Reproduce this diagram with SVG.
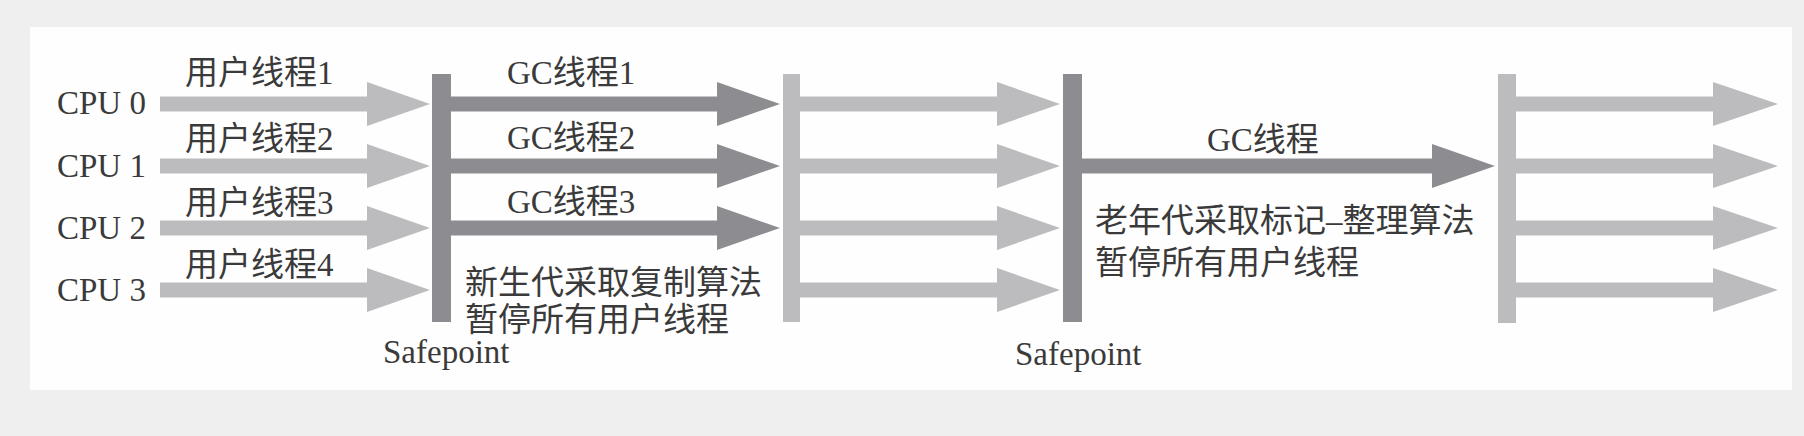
<svg xmlns="http://www.w3.org/2000/svg" width="1804" height="436" viewBox="0 0 1804 436">
<style>
text{font-family:"Liberation Serif","Noto Sans CJK SC",serif;font-size:33px;fill:#3a3a3a}
.lt{fill:#bcbcbe}
.dk{fill:#8d8d91}
</style>
<rect x="0" y="0" width="1804" height="436" fill="#efefef"/>
<rect x="30" y="27" width="1762" height="363" fill="#fefefe"/>
<g id="cpu-labels">
<text x="57" y="114">CPU 0</text>
<text x="57" y="177">CPU 1</text>
<text x="57" y="239">CPU 2</text>
<text x="57" y="301">CPU 3</text>
</g>
<g id="user-thread-labels">
<text x="185" y="84">用户线程1</text>
<text x="185" y="150">用户线程2</text>
<text x="185" y="214">用户线程3</text>
<text x="185" y="276">用户线程4</text>
</g>
<g id="safepoint-1">
<rect class="dk" x="432" y="74" width="19" height="248"/>
<text x="383" y="363">Safepoint</text>
</g>
<g id="gc-labels-young">
<text x="507" y="84">GC线程1</text>
<text x="507" y="149">GC线程2</text>
<text x="507" y="213">GC线程3</text>
<text x="465" y="294">新生代采取复制算法</text>
<text x="465" y="331">暂停所有用户线程</text>
</g>
<g id="resume-1">
<rect class="lt" x="783" y="74" width="17" height="248"/>
</g>
<g id="safepoint-2">
<rect class="dk" x="1063" y="74" width="19" height="248"/>
<text x="1015" y="365">Safepoint</text>
</g>
<g id="gc-labels-old">
<text x="1207" y="151">GC线程</text>
<text x="1095" y="232">老年代采取标记–整理算法</text>
<text x="1095" y="274">暂停所有用户线程</text>
</g>
<g id="resume-2">
<rect class="lt" x="1498" y="74" width="18" height="249"/>
</g>
<g id="connectors">
<polygon class="lt" points="160,96.5 367,96.5 367,82 430,104 367,126 367,111.5 160,111.5"/>
<polygon class="lt" points="160,158.5 367,158.5 367,144 430,166 367,188 367,173.5 160,173.5"/>
<polygon class="lt" points="160,220.5 367,220.5 367,206 430,228 367,250 367,235.5 160,235.5"/>
<polygon class="lt" points="160,282.5 367,282.5 367,268 430,290 367,312 367,297.5 160,297.5"/>
<polygon class="dk" points="451,96.5 717,96.5 717,82 780,104 717,126 717,111.5 451,111.5"/>
<polygon class="dk" points="451,158.5 717,158.5 717,144 780,166 717,188 717,173.5 451,173.5"/>
<polygon class="dk" points="451,220.5 717,220.5 717,206 780,228 717,250 717,235.5 451,235.5"/>
<polygon class="lt" points="800,96.5 997,96.5 997,82 1060,104 997,126 997,111.5 800,111.5"/>
<polygon class="lt" points="800,158.5 997,158.5 997,144 1060,166 997,188 997,173.5 800,173.5"/>
<polygon class="lt" points="800,220.5 997,220.5 997,206 1060,228 997,250 997,235.5 800,235.5"/>
<polygon class="lt" points="800,282.5 997,282.5 997,268 1060,290 997,312 997,297.5 800,297.5"/>
<polygon class="dk" points="1082,158.5 1432,158.5 1432,144 1495,166 1432,188 1432,173.5 1082,173.5"/>
<polygon class="lt" points="1516,96.5 1713,96.5 1713,82 1778,104 1713,126 1713,111.5 1516,111.5"/>
<polygon class="lt" points="1516,158.5 1713,158.5 1713,144 1778,166 1713,188 1713,173.5 1516,173.5"/>
<polygon class="lt" points="1516,220.5 1713,220.5 1713,206 1778,228 1713,250 1713,235.5 1516,235.5"/>
<polygon class="lt" points="1516,282.5 1713,282.5 1713,268 1778,290 1713,312 1713,297.5 1516,297.5"/>
</g>
</svg>
